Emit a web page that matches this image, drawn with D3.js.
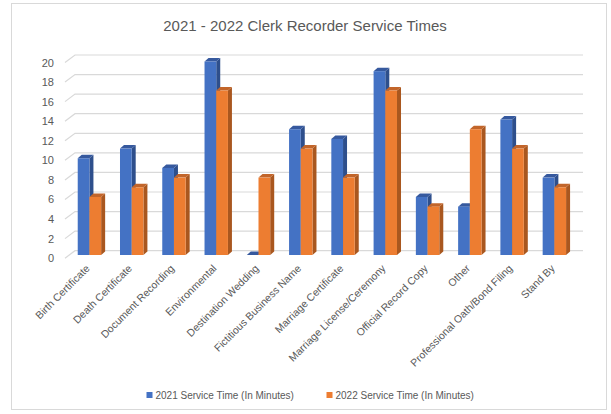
<!DOCTYPE html>
<html>
<head>
<meta charset="utf-8">
<script src="https://cdn.jsdelivr.net/npm/d3@7"></script>
<style>
  html, body { margin: 0; padding: 0; background: #fff; }
  svg { display: block; font-family: "Liberation Sans", Arial, sans-serif; }
</style>
</head>
<body>
<svg id="chart" width="611" height="414"></svg>
<script>
// Service categories and average service times (minutes)
const categories = [
  "Birth Certificate", "Death Certificate", "Document Recording", "Environmental",
  "Destination Wedding", "Fictitious Business Name", "Marriage Certificate",
  "Marriage License/Ceremony", "Official Record Copy", "Other",
  "Professional Oath/Bond Filing", "Stand By"
];
const times2021 = [10, 11, 9, 20, 0, 13, 12, 19, 6, 5, 14, 8];
const times2022 = [6, 7, 8, 17, 8, 11, 8, 17, 5, 13, 11, 7];
const seriesNames = ["2021 Service Time (In Minutes)", "2022 Service Time (In Minutes)"];
const yTicks = [0, 2, 4, 6, 8, 10, 12, 14, 16, 18, 20];

const palette = {
  front: ["#4472C4", "#ED7D31"],
  side:  ["#2E4F8C", "#A9571F"],
  top:   ["#36599E", "#C2652A"]
};

const svg = d3.select("#chart");

// outer chart frame
svg.append("rect")
  .attr("x", 11.5).attr("y", 3.5).attr("width", 595).attr("height", 406)
  .attr("fill", "#fff").attr("stroke", "#d9d9d9").attr("stroke-width", 1);

// title
svg.append("text")
  .attr("x", 305).attr("y", 31)
  .attr("text-anchor", "middle")
  .attr("fill", "#595959")
  .attr("font-size", 15)
  .text("2021 - 2022 Clerk Recorder Service Times");

// scales: back wall for gridlines, front face for bars
const yGrid = d3.scaleLinear().domain([0, 20]).range([250.7, 55]);
const yBar = d3.scaleLinear().domain([0, 20]).range([255, 61.5]);
const x0 = d3.scaleBand().domain(categories).range([68.3, 575.5])
  .paddingInner(0.446).paddingOuter(0.223);
const x1 = d3.scaleBand().domain([0, 1]).range([0, x0.bandwidth()]);

const depthX = 4, depthY = -3.5;
const wallLeft = 75, wallRight = 583, floorDX = -10, floorDY = 7.5;

// gridlines with the slanted side-wall segment
const grid = svg.append("g").attr("stroke", "#d9d9d9").attr("fill", "none").attr("stroke-width", 1.2);
yTicks.forEach(v => {
  const y = yGrid(v);
  grid.append("path")
    .attr("d", `M${wallLeft + floorDX},${y + floorDY} L${wallLeft},${y} L${wallRight},${y}`);
});

// y tick labels
svg.append("g").selectAll("text").data(yTicks).join("text")
  .attr("x", 54).attr("y", d => yGrid(d) + floorDY + 4)
  .attr("text-anchor", "end")
  .attr("fill", "#595959")
  .attr("font-size", 11)
  .text(d => d);

// 3D bars
const series = [times2021, times2022];
const bars = svg.append("g");
categories.forEach((cat, i) => {
  series.forEach((vals, s) => {
    const v = vals[i];
    const xl = x0(cat) + x1(s);
    const w = x1.bandwidth();
    const yt = yBar(v), yb = yBar(0);
    const g = bars.append("g");
    // side face
    g.append("path")
      .attr("d", `M${xl + w},${yt} L${xl + w + depthX},${yt + depthY} L${xl + w + depthX},${yb + depthY} L${xl + w},${yb} Z`)
      .attr("fill", palette.side[s]);
    // top face
    g.append("path")
      .attr("d", `M${xl},${yt} L${xl + depthX},${yt + depthY} L${xl + w + depthX},${yt + depthY} L${xl + w},${yt} Z`)
      .attr("fill", palette.top[s]);
    // front face
    g.append("rect")
      .attr("x", xl).attr("y", yt)
      .attr("width", w).attr("height", yb - yt)
      .attr("fill", palette.front[s]);
  });
});

// category labels, rotated
svg.append("g").selectAll("text").data(categories).join("text")
  .attr("transform", d => `translate(${x0(d) + x0.bandwidth() / 2 + 1},${269}) rotate(-45)`)
  .attr("text-anchor", "end")
  .attr("fill", "#595959")
  .attr("font-size", 10.5)
  .text(d => d);

// legend
const legend = svg.append("g");
const legendX = [146.5, 326.5];
seriesNames.forEach((name, s) => {
  legend.append("rect")
    .attr("x", legendX[s]).attr("y", 392)
    .attr("width", 6).attr("height", 6)
    .attr("fill", palette.front[s]);
  legend.append("text")
    .attr("x", legendX[s] + 9).attr("y", 399)
    .attr("fill", "#595959")
    .attr("font-size", 10)
    .text(name);
});
</script>
</body>
</html>
